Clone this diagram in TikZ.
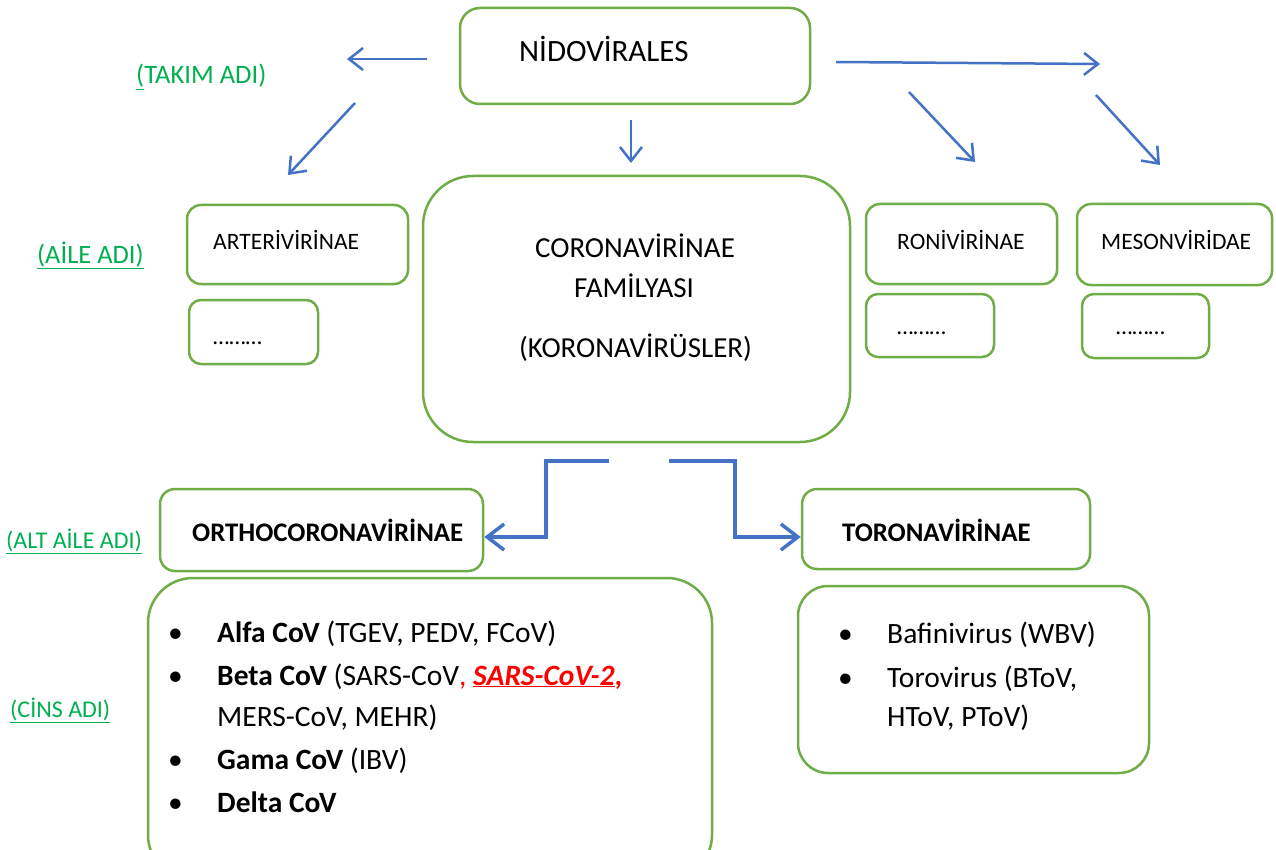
\documentclass[tikz,border=0pt]{standalone}
\usepackage{fontspec}
\setmainfont{Carlito}
\usetikzlibrary{arrows.meta}
\definecolor{boxgreen}{RGB}{112,173,71}
\definecolor{lblgreen}{RGB}{0,176,80}
\definecolor{arrblue}{RGB}{68,114,196}
\definecolor{redtxt}{RGB}{255,0,0}
\tikzset{
  vbox/.style={draw=boxgreen, line width=2.5pt, rounded corners=#1, inner sep=0pt, fill=white},
  vbox/.default=16pt,
  txt/.style={anchor=base west, inner sep=0pt, font=\fontsize{23.5}{27}\selectfont},
  ctxt/.style={anchor=base, inner sep=0pt, font=\fontsize{29}{33}\selectfont},
  lbl/.style={anchor=base west, inner sep=0pt, text=lblgreen, font=\fontsize{24}{28}\selectfont},
  btxt/.style={anchor=base west, inner sep=0pt, font=\fontsize{29.5}{33}\selectfont},
  bul/.style={anchor=base west, inner sep=0pt, font=\fontsize{29.5}{33}\selectfont},
  thinarr/.style={draw=arrblue, line width=2.5pt, -{Straight Barb[length=14pt,width=22pt,line width=2.5pt]}},
  thickarr/.style={draw=arrblue, line width=4pt, -{Straight Barb[length=17pt,width=26pt,line width=3.5pt]}},
}
\begin{document}
\begin{tikzpicture}[x=1pt,y=-1pt]
\useasboundingbox (0,0) rectangle (1276,850);
\clip (0,0) rectangle (1276,850);
\fill[white] (0,0) rectangle (1276,850);

% boxes
\node[vbox=20pt, minimum width=350pt, minimum height=96pt] (nido) at (635,56) {};
\node[vbox=14pt, minimum width=221pt, minimum height=79pt] (arter) at (297.5,244.5) {};
\node[vbox=12pt, minimum width=129pt, minimum height=64pt] (arterdots) at (253.5,332) {};
\node[vbox=50pt, minimum width=427pt, minimum height=266pt] (corona) at (636.5,309) {};
\node[vbox=14pt, minimum width=191pt, minimum height=80pt] (roni) at (961.5,244) {};
\node[vbox=14pt, minimum width=195pt, minimum height=81pt] (meso) at (1174.5,244.5) {};
\node[vbox=12pt, minimum width=128pt, minimum height=63pt] (ronidots) at (930,325.5) {};
\node[vbox=12pt, minimum width=127pt, minimum height=64pt] (mesodots) at (1145.5,326) {};
\node[vbox=15pt, minimum width=323pt, minimum height=82pt] (ortho) at (321.5,530) {};
\node[vbox=15pt, minimum width=288pt, minimum height=80pt] (torona) at (946,529) {};
\node[vbox=45pt, minimum width=564pt, minimum height=302pt] (genl) at (430,729) {};
\node[vbox=30pt, minimum width=351pt, minimum height=187pt] (genr) at (973.5,679.5) {};

% box texts
\node[txt, font=\fontsize{31}{35}\selectfont] (tnido) at (519,62) {NİDOVİRALES};
\node[txt] (tarter) at (213,249.5) {ARTERİVİRİNAE};
\node[txt] (tarterdots) at (213,344) {………};
\node[ctxt] (tcor1) at (635,258) {CORONAVİRİNAE};
\node[ctxt] (tcor2) at (634,298) {FAMİLYASI};
\node[ctxt] (tcor3) at (635.5,357) {(KORONAVİRÜSLER)};
\node[txt] (troni) at (897,249.5) {RONİVİRİNAE};
\node[txt] (tmeso) at (1101,250) {MESONVİRİDAE};
\node[txt] (tronidots) at (897,334) {………};
\node[txt] (tmesodots) at (1116,334) {………};
\node[txt, font=\fontsize{26.8}{30}\selectfont\bfseries] (tortho) at (192,541) {ORTHOCORONAVİRİNAE};
\node[txt, font=\fontsize{26.8}{30}\selectfont\bfseries] (ttoro) at (842,541) {TORONAVİRİNAE};

% level labels
\node[lbl, font=\fontsize{26.6}{30}\selectfont] (ltakim) at (136,84) {\underline{(}TAKIM ADI)};
\node[lbl, font=\fontsize{26.5}{30}\selectfont] (laile) at (37,263) {\underline{(AİLE ADI)}};
\node[lbl] (lalt) at (6,548) {\underline{(ALT AİLE ADI)}};
\node[lbl] (lcins) at (10,717) {\underline{(CİNS ADI)}};

% genus list left
\node[bul] (b1) at (168,642) {•};
\node[bul] (b2) at (168,685) {•};
\node[bul] (b3) at (168,769) {•};
\node[bul] (b4) at (168,812) {•};
\node[btxt] (g1) at (217,642) {\textbf{Alfa CoV} (TGEV, PEDV, FCoV)};
\node[btxt] (g2) at (217,685) {\textbf{Beta CoV} (SARS-CoV\textcolor{redtxt}{, \textbf{\textit{\underline{SARS-CoV-2}},}}};
\node[btxt] (g2b) at (217,726) {MERS-CoV, MEHR)};
\node[btxt] (g3) at (217,769) {\textbf{Gama CoV} (IBV)};
\node[btxt] (g4) at (217,812) {\textbf{Delta CoV}};

% genus list right
\node[bul] (b5) at (838,643) {•};
\node[bul] (b6) at (838,687) {•};
\node[btxt] (r1) at (887,643) {Bafinivirus (WBV)};
\node[btxt] (r2) at (887,687) {Torovirus (BToV,};
\node[btxt] (r2b) at (887,726) {HToV, PToV)};

% arrows from NIDOVIRALES (free ends)
\coordinate (a1s) at (427,59);  \coordinate (a1e) at (347,59);
\coordinate (a2s) at (355,103); \coordinate (a2e) at (288,175);
\coordinate (a3s) at (631,120); \coordinate (a3e) at (631,163);
\coordinate (a4s) at (836,62);  \coordinate (a4e) at (1100,64);
\coordinate (a5s) at (909,92);  \coordinate (a5e) at (975,162);
\coordinate (a6s) at (1096,95); \coordinate (a6e) at (1160,165);
\draw[thinarr] (a1s) -- (a1e);
\draw[thinarr] (a2s) -- (a2e);
\draw[thinarr] (a3s) -- (a3e);
\draw[thinarr] (a4s) -- (a4e);
\draw[thinarr] (a5s) -- (a5e);
\draw[thinarr] (a6s) -- (a6e);

% elbow arrows
\coordinate (e1s) at (609,461);
\coordinate (e2s) at (669,461);
\draw[thickarr] (e1s) -- (546,461) |- ([yshift=-7pt]ortho.east);
\draw[thickarr] (e2s) -- (735,461) |- ([yshift=-8pt]torona.west);
\end{tikzpicture}
\end{document}
